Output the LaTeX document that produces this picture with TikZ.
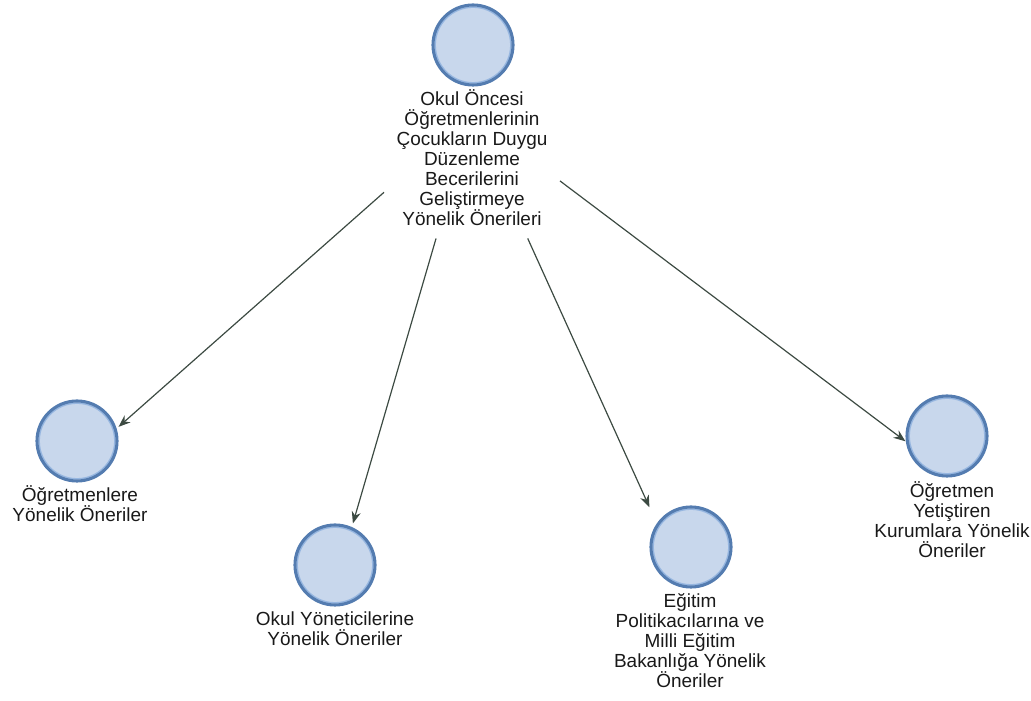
\documentclass[tikz,border=0pt]{standalone}
\usepackage{fontspec}
\setmainfont{Liberation Sans}
\usetikzlibrary{arrows.meta}
\usetikzlibrary{fit}
\usetikzlibrary{intersections}
\definecolor{ringdark}{RGB}{84,124,176}
\definecolor{ringlight}{RGB}{150,182,224}
\definecolor{blobfill}{RGB}{200,215,236}
\definecolor{arrowgrey}{RGB}{60,74,66}
\definecolor{textgrey}{RGB}{25,25,25}
% arrow from the top node to a circle: aimed at circle+label, stopped at the circle's square
\newcommand\linkto[1]{%
	\path[name path=sq] (#1.west |- #1.north) rectangle (#1.east |- #1.south);
	\path[name path=ray] (rootbox.center) -- (#1all.center);
	\draw[arr,name intersections={of=sq and ray,sort by=ray}] (rootbox) -- (intersection-1);
}

\begin{document}
\begin{tikzpicture}[
	blob/.style={circle,minimum size=2cm,inner sep=0pt,fill=blobfill,draw=ringdark,line width=2.2pt,
		path picture={\draw[ringlight,line width=1pt] (path picture bounding box.center) circle (0.945cm);}},
	lbl/.style={align=center,text=textgrey,font=\fontsize{13.5}{14.2}\selectfont,inner sep=0pt},
	arr/.style={draw=arrowgrey,line width=0.85pt,-{Stealth[length=8.5pt,width=6.5pt]}}
	]
	\useasboundingbox (0,0) rectangle (25.775,17.525);

	%CIRCLES
	\node[blob] (root) at (11.825,16.4) {};			%top circle
	\node[blob] (teachers) at (1.925,6.5) {};		%left
	\node[blob] (admins) at (8.375,3.4) {};			%low left
	\node[blob] (policy) at (17.275,3.85) {};		%low right
	\node[blob] (training) at (23.675,6.625) {};	%right

	%LABELS
	\node[lbl] (rootlbl) at (11.8,13.575) {Okul Öncesi\\Öğretmenlerinin\\Çocukların Duygu\\Düzenleme\\Becerilerini\\Geliştirmeye\\Yönelik Önerileri};
	\node[lbl] (teacherslbl) at (2.0,4.925) {Öğretmenlere\\Yönelik Öneriler};
	\node[lbl] (adminslbl) at (8.375,1.8) {Okul Yöneticilerine\\Yönelik Öneriler};
	\node[lbl] (policylbl) at (17.25,1.5) {Eğitim\\Politikacılarına ve\\Milli Eğitim\\Bakanlığa Yönelik\\Öneriler};
	\node[lbl] (traininglbl) at (23.8,4.525) {Öğretmen\\Yetiştiren\\Kurumlara Yönelik\\Öneriler};
	%
	\node[fit=(root)(rootlbl),inner sep=0.3cm] (rootbox) {};	%whole top node
	\node[fit=(teachers)(teacherslbl),inner sep=0pt] (teachersall) {};
	\node[fit=(admins)(adminslbl),inner sep=0pt] (adminsall) {};
	\node[fit=(policy)(policylbl),inner sep=0pt] (policyall) {};
	\node[fit=(training)(traininglbl),inner sep=0pt] (trainingall) {};

	%ARROWS
	\linkto{teachers}
	\linkto{admins}
	\linkto{policy}
	\linkto{training}
\end{tikzpicture}
\end{document}
